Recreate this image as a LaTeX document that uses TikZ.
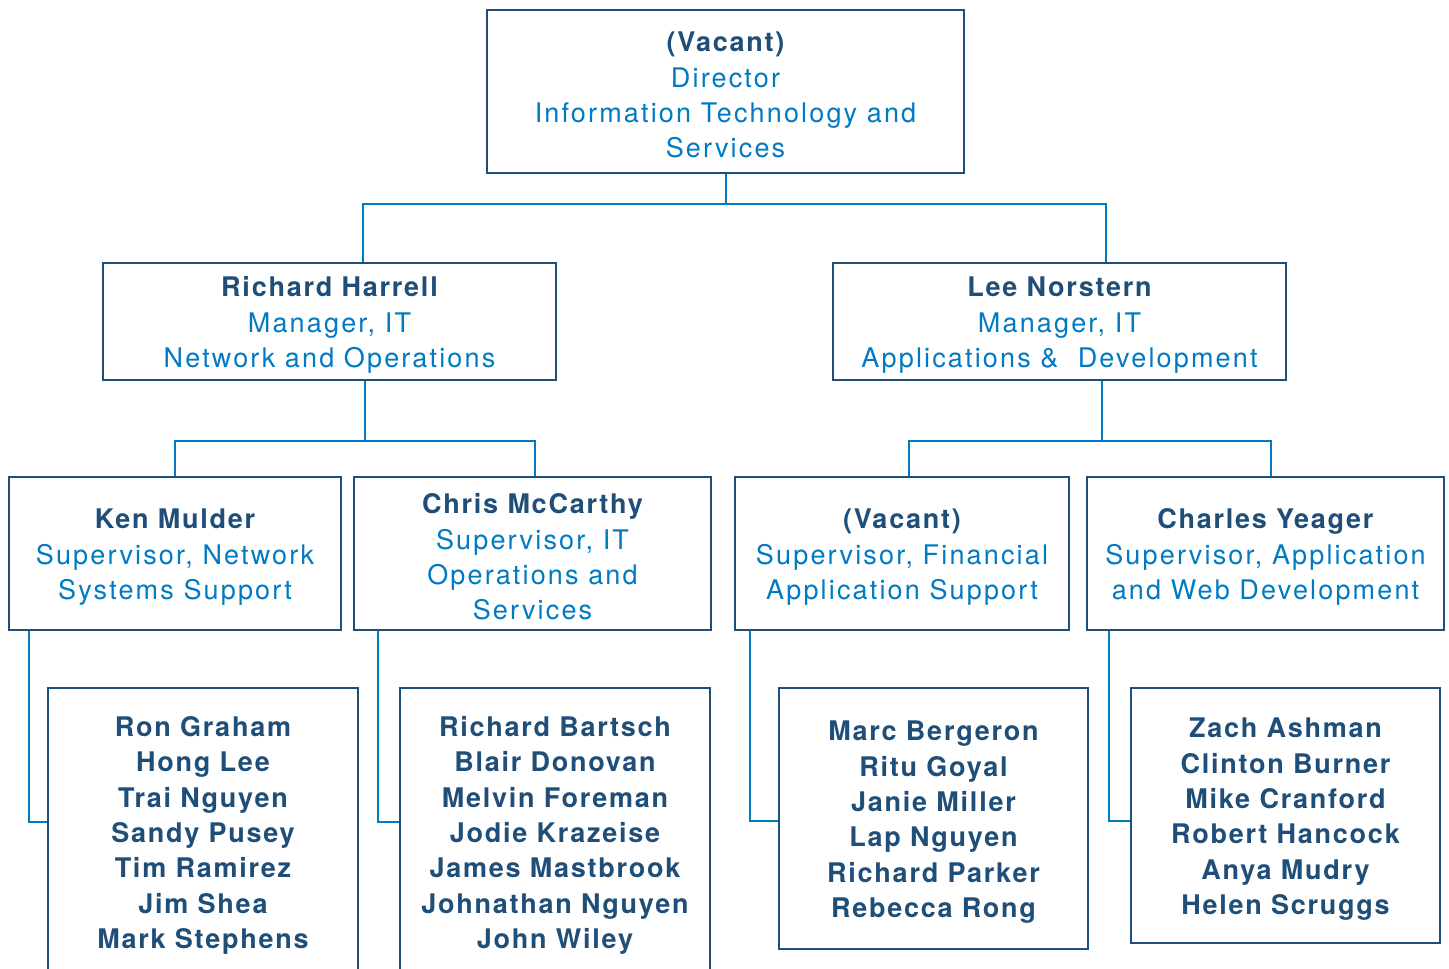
\documentclass[tikz,border=0pt]{standalone}
\usepackage{fontspec}
\setmainfont{TeX Gyre Heros}[LetterSpace=8, BoldFeatures={LetterSpace=6.5}]
\usetikzlibrary{positioning}
\definecolor{navy}{RGB}{31,78,121}
\definecolor{titleblue}{RGB}{0,122,194}
\tikzset{
  unit/.style={draw=navy, line width=2.4pt, inner sep=0pt, align=center,
    text=titleblue, font=\fontsize{27}{35.3}\selectfont},
  staff/.style={unit, text=navy, font=\fontsize{27}{35.3}\selectfont\bfseries},
  link/.style={draw=titleblue, line width=2pt}
}
\newcommand{\lead}{\rule{0pt}{27pt}}
\newcommand{\who}[2]{\lead\textbf{\color{navy}#1}\\#2}

\begin{document}
\begin{tikzpicture}[x=1pt, y=-1pt]
\clip (0,0) rectangle (1449,969);
\fill[white] (0,0) rectangle (1449,969);

% director
\node[unit, minimum width=477pt, minimum height=163pt](dir) at (725.5,91.5)
  {\who{(Vacant)}{Director\\Information Technology and\\Services}};

% managers
\node[unit, minimum width=453pt, minimum height=117pt](harrell) at (329.5,321.5)
  {\who{Richard Harrell}{Manager, IT\\Network and Operations}};
\node[unit, minimum width=453pt, minimum height=117pt](norstern) at (1059.5,321.5)
  {\who{Lee Norstern}{Manager, IT\\Applications \&\ \ Development}};

% supervisors
\node[unit, minimum width=332pt, minimum height=153pt](mulder) at (175,553.5)
  {\who{Ken Mulder}{Supervisor, Network\\Systems Support}};
\node[unit, minimum width=357pt, minimum height=153pt](mccarthy) at (532.5,553.5)
  {\who{Chris McCarthy}{Supervisor, IT\\Operations and\\Services}};
\node[unit, minimum width=334pt, minimum height=153pt](finsup) at (902,553.5)
  {\who{(Vacant)}{Supervisor, Financial\\Application Support}};
\node[unit, minimum width=357pt, minimum height=153pt](yeager) at (1265.5,553.5)
  {\who{Charles Yeager}{Supervisor, Application\\and Web Development}};

% staff lists
\node[staff, minimum width=310pt, minimum height=288pt](netstaff) at (203,832)
  {\lead Ron Graham\\Hong Lee\\Trai Nguyen\\Sandy Pusey\\Tim Ramirez\\Jim Shea\\Mark Stephens};
\node[staff, minimum width=310pt, minimum height=288pt](opsstaff) at (555,832)
  {\lead Richard Bartsch\\Blair Donovan\\Melvin Foreman\\Jodie Krazeise\\James Mastbrook\\Johnathan Nguyen\\John Wiley};
\node[staff, minimum width=309pt, minimum height=261pt](finstaff) at (933.5,818.5)
  {\lead Marc Bergeron\\Ritu Goyal\\Janie Miller\\Lap Nguyen\\Richard Parker\\Rebecca Rong};
\node[staff, minimum width=309pt, minimum height=255pt](webstaff) at (1285.5,815.5)
  {\lead Zach Ashman\\Clinton Burner\\Mike Cranford\\Robert Hancock\\Anya Mudry\\Helen Scruggs};

% connectors
\draw[link] (dir.south) -- ++(0,30) coordinate (topbar);
\draw[link] ([xshift=33.5pt]harrell.north) |- (topbar) -| ([xshift=46.5pt]norstern.north);
\draw[link] ([xshift=35.5pt]harrell.south) -- ++(0,60) coordinate (leftbar);
\draw[link] (mulder.north) |- (leftbar) -| ([xshift=2.5pt]mccarthy.north);
\draw[link] ([xshift=42.5pt]norstern.south) -- ++(0,60) coordinate (rightbar);
\draw[link] ([xshift=7pt]finsup.north) |- (rightbar) -| ([xshift=5.5pt]yeager.north);
\draw[link] ([xshift=21pt]mulder.south west) |- ([yshift=-135pt]netstaff.north west);
\draw[link] ([xshift=25pt]mccarthy.south west) |- ([yshift=-135pt]opsstaff.north west);
\draw[link] ([xshift=16pt]finsup.south west) |- ([yshift=-134pt]finstaff.north west);
\draw[link] ([xshift=23pt]yeager.south west) |- ([yshift=-134pt]webstaff.north west);
\end{tikzpicture}
\end{document}
